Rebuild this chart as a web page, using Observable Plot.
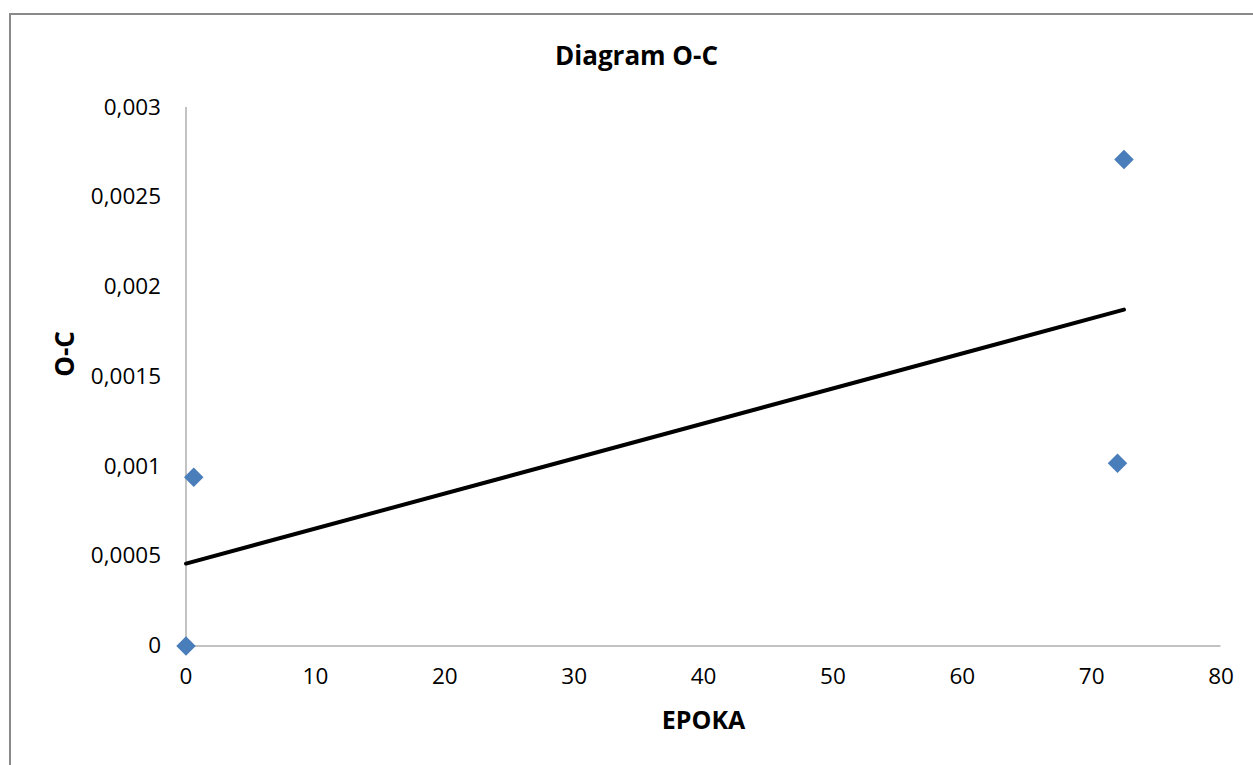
<!DOCTYPE html>
<html>
<head>
<meta charset="utf-8">
<script src="https://cdn.jsdelivr.net/npm/d3@7"></script>
<script src="https://cdn.jsdelivr.net/npm/@observablehq/plot@0.6"></script>
<style>
  html, body { margin: 0; padding: 0; background: #fff; overflow: hidden; }
  #wrap { position: relative; width: 1253px; height: 765px; }
  #border { position: absolute; left: 9px; top: 13px; width: 1300px; height: 800px;
            border: 2px solid #8a8a8a; box-sizing: border-box; pointer-events: none; }
  #chart { position: absolute; left: 0; top: 0; }
</style>
</head>
<body>
<div id="wrap"><div id="chart"></div><div id="border"></div></div>
<script>
// Observations: epoch vs. O-C residual
const epoka = [0, 0.6, 72, 72.5];
const oc = [0, 0.00094, 0.001018, 0.00271];
const xTicks = [0, 10, 20, 30, 40, 50, 60, 70, 80];
const yTicks = [0, 0.0005, 0.001, 0.0015, 0.002, 0.0025, 0.003];

const data = epoka.map((e, i) => ({ epoka: e, oc: oc[i] }));
const comma = d => String(d).replace(".", ",");
const font = "Open Sans, Lato, sans-serif";

const chart = Plot.plot({
  width: 1253,
  height: 765,
  marginLeft: 185.5,
  marginRight: 32.5,
  marginTop: 107,
  marginBottom: 119.5,
  style: { fontFamily: font, fontSize: "22.5px", color: "#000", background: "transparent" },
  x: { domain: [0, 80], ticks: xTicks, tickFormat: comma, tickSize: 0, tickPadding: 22, label: null },
  y: { domain: [0, 0.003], ticks: yTicks, tickFormat: comma, tickSize: 0, tickPadding: 25, label: null },
  marks: [
    Plot.ruleX([0], { stroke: "#868686", strokeWidth: 1 }),
    Plot.ruleY([0], { stroke: "#868686", strokeWidth: 1 }),
    Plot.linearRegressionY(data, { x: "epoka", y: "oc", ci: 0, stroke: "#000", strokeWidth: 4 }),
    Plot.dot(data, { x: "epoka", y: "oc", symbol: "diamond2", r: 8.8, fill: "#4a7ebb", stroke: "none" }),
    Plot.text(["Diagram O-C"], { frameAnchor: "top", dx: -67, dy: -61, fontWeight: "bold", fontSize: 26, fill: "#000" }),
    Plot.text(["EPOKA"], { frameAnchor: "bottom", dy: 83, fontWeight: "bold", fontSize: 25, fill: "#000" }),
    Plot.text(["O-C"], { frameAnchor: "left", dx: -120, rotate: -90, fontWeight: "bold", fontSize: 26, fill: "#000" })
  ]
});
document.getElementById("chart").appendChild(chart);
</script>
</body>
</html>
